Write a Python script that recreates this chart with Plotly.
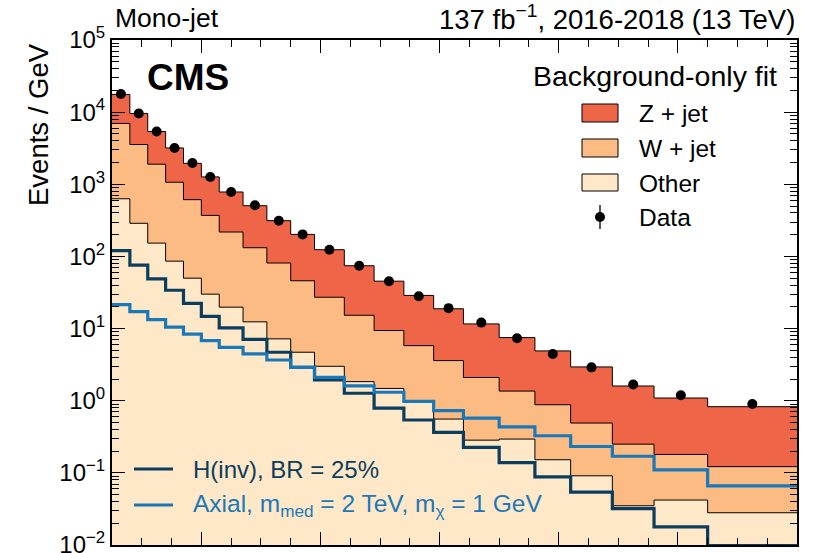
import plotly.graph_objects as go
import numpy as np

# Hadronic recoil bin edges (GeV)
edges = [250, 280, 310, 340, 370, 400, 430, 470, 510, 550, 590, 640, 690, 740,
         790, 840, 900, 960, 1020, 1090, 1160, 1250, 1400]

# Observed data (events / GeV)
data = [17800, 9590, 5390, 3190, 1977, 1265, 782, 511, 313, 202, 124, 74.3, 45.4,
        28.1, 19.2, 12.1, 7.33, 4.45, 2.90, 1.68, 1.19, 0.90]

# Background-only fit, per process (events / GeV)
other = [630, 288, 153, 86, 50, 30, 19.8, 12.4, 7.2, 4.7, 3.0, 1.84, 1.48, 0.95,
         0.557, 0.284, 0.294, 0.152, 0.091, 0.035, 0.042, 0.028]
w_jet = [6340, 3272, 1747, 981, 562, 340, 198.2, 119.6, 73.8, 41.3, 24.2, 13.46,
         7.92, 4.85, 3.043, 1.816, 1.066, 0.728, 0.399, 0.215, 0.138, 0.094]
z_jet = [10630, 6030, 3490, 2123, 1338, 895, 564, 373, 232, 156, 96.8, 59.0, 36.0,
         23.0, 15.2, 9.5, 6.14, 4.02, 2.45, 1.35, 0.91, 0.704]

# Signal hypotheses (events / GeV)
hinv = [120, 76, 49, 34, 22.4, 14.8, 10.2, 7.1, 4.7, 2.9, 1.94, 1.27, 0.79, 0.54,
        0.363, 0.225, 0.139, 0.088, 0.054, 0.032, 0.0178, 0.0098]
axial = [21.5, 17.2, 13.3, 10.5, 8.4, 6.8, 5.5, 4.45, 3.67, 2.90, 2.11, 1.61, 1.31,
         0.98, 0.73, 0.575, 0.435, 0.327, 0.232, 0.17, 0.110, 0.066]

C_Z = "#EF6548"
C_W = "#FDBB84"
C_O = "#FEE8C8"
C_H = "#0B3D5E"
C_A = "#1B78B8"
FONT = "Liberation Sans, Arial, Helvetica, sans-serif"

other_a = np.array(other)
w_cum = other_a + np.array(w_jet)
z_cum = w_cum + np.array(z_jet)


def step(vals):
    v = list(vals)
    return v + [v[-1]]


fig = go.Figure()
for cum, col in [(z_cum, C_Z), (w_cum, C_W), (other_a, C_O)]:
    fig.add_trace(go.Scatter(
        x=edges, y=step(cum), mode="lines", line=dict(shape="hv", color="black", width=1),
        fill="tozeroy", fillcolor=col, showlegend=False, hoverinfo="skip"))

fig.add_trace(go.Scatter(x=edges, y=step(hinv), mode="lines",
                         line=dict(shape="hv", color=C_H, width=3.2), showlegend=False))
fig.add_trace(go.Scatter(x=edges, y=step(axial), mode="lines",
                         line=dict(shape="hv", color=C_A, width=3.2), showlegend=False))

centers = [(a + b) / 2 for a, b in zip(edges[:-1], edges[1:])]
fig.add_trace(go.Scatter(x=centers, y=data, mode="markers",
                         marker=dict(color="black", size=10), showlegend=False))

# geometry helpers (pixel -> paper)
L, R, T, B = 112, 797, 40, 545
W = R - L
H = B - T


def px(x):
    return (x - L) / W


def py(y):
    return (B - y) / H


ann = []


def text(x, y, s, size, xanchor="left", color="black", bold=False, textangle=0, yanchor="middle"):
    ann.append(dict(x=px(x), y=py(y), xref="paper", yref="paper", text=("<b>%s</b>" % s) if bold else s,
                    showarrow=False, xanchor=xanchor, yanchor=yanchor, textangle=textangle,
                    font=dict(family=FONT, size=size, color=color)))


text(113, 18, "Mono-jet", 26.5)
text(797, 18, "137 fb<sup>\u22121</sup>, 2016-2018 (13 TeV)", 27.5, xanchor="right")
text(145, 78, "CMS", 37, bold=True)
text(38, 125, "Events / GeV", 27.5, xanchor="center", textangle=-90)
text(779, 76, "Background-only fit", 28.5, xanchor="right")
text(637, 113, "Z + jet", 24.5)
text(637, 148, "W + jet", 24.5)
text(637, 183, "Other", 24.5)
text(637, 217, "Data", 24.5)
text(191, 469, "H(inv), BR = 25%", 24, color=C_H)
text(191, 505, "Axial, m<sub>med</sub> = 2 TeV, m<sub>\u03c7</sub> = 1 GeV", 24.5, color=C_A)

shapes = []
for (y0, y1, col) in [(104, 122, C_Z), (139, 157, C_W), (174, 191, C_O)]:
    shapes.append(dict(type="rect", xref="paper", yref="paper", x0=px(582), x1=px(618),
                       y0=py(y1), y1=py(y0), fillcolor=col, line=dict(color="black", width=1)))
shapes.append(dict(type="line", xref="paper", yref="paper", x0=px(600), x1=px(600),
                   y0=py(229), y1=py(205), line=dict(color="black", width=1.3)))
shapes.append(dict(type="circle", xref="paper", yref="paper", x0=px(595), x1=px(605),
                   y0=py(222), y1=py(212), fillcolor="black", line=dict(color="black", width=0)))
for y, col in [(469, C_H), (505, C_A)]:
    shapes.append(dict(type="line", xref="paper", yref="paper", x0=px(134), x1=px(173),
                       y0=py(y), y1=py(y), line=dict(color=col, width=3.2)))

minor_y = [m * 10.0 ** k for k in range(-2, 5) for m in range(2, 10)]

fig.update_layout(
    width=813, height=553,
    margin=dict(l=L, r=813 - R, t=T, b=553 - B, autoexpand=False),
    plot_bgcolor="white", paper_bgcolor="white",
    font=dict(family=FONT, size=22, color="black"),
    annotations=ann, shapes=shapes, showlegend=False,
    xaxis=dict(range=[250, 1400], showgrid=False, zeroline=False, showticklabels=False,
               ticks="inside", ticklen=13, tickwidth=1.3, tickcolor="black", dtick=200, tick0=0,
               automargin=False,
               minor=dict(ticks="inside", ticklen=7, dtick=50, tickcolor="black", tickwidth=1.2),
               showline=True, linecolor="black", linewidth=2, mirror="allticks"),
    yaxis=dict(type="log", range=[-2, 5], showgrid=False, zeroline=False,
               tickvals=[10.0 ** k for k in range(-2, 6)],
               ticktext=["10<sup>%s</sup>" % (str(k) if k >= 0 else "\u2212" + str(-k)) for k in range(-2, 6)],
               tickfont=dict(size=24), ticks="inside", ticklen=13, tickwidth=1.3, tickcolor="black",
               ticklabeloverflow="allow", automargin=False,
               minor=dict(ticks="inside", ticklen=7, tickvals=minor_y, tickcolor="black", tickwidth=1.2),
               showline=True, linecolor="black", linewidth=2, mirror="allticks"),
)

fig.write_html("out.html")
